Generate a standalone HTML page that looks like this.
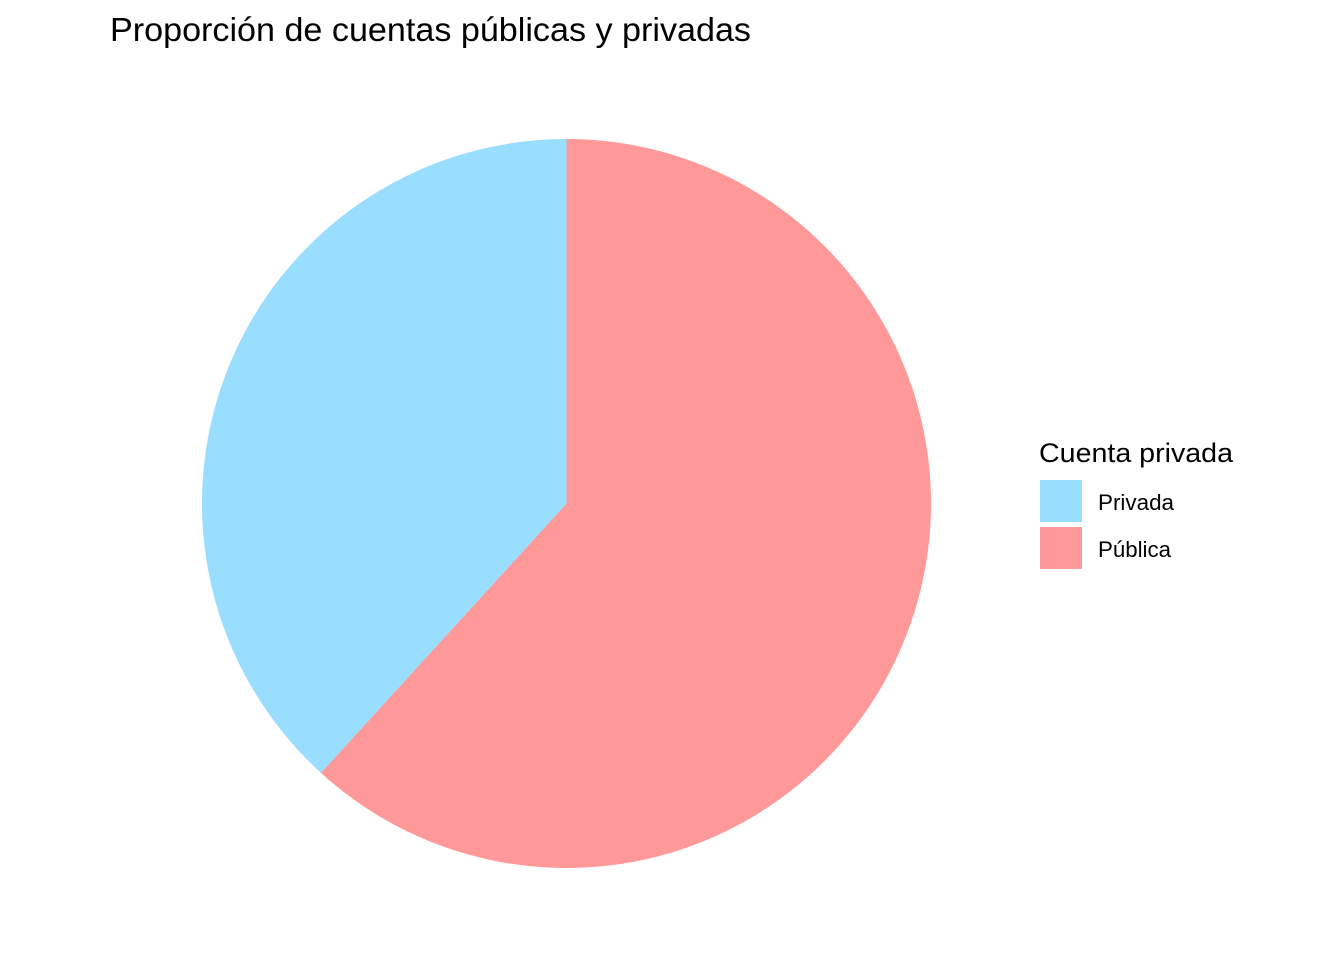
<!DOCTYPE html>
<html><head><meta charset="utf-8">
<style>
html,body{margin:0;padding:0;background:#fff;}
svg{display:block;font-family:"Liberation Sans",Arial,sans-serif;}
</style></head>
<body>
<svg id="chart" width="1344" height="960" viewBox="0 0 1344 960">
  <text x="110" y="41" font-size="33" textLength="641" lengthAdjust="spacingAndGlyphs" fill="#000">Proporción de cuentas públicas y privadas</text>
  <g id="slices"></g>
  <g>
    <text x="1039" y="462" font-size="27" textLength="194" lengthAdjust="spacingAndGlyphs" fill="#000">Cuenta privada</text>
    <g id="legend-items"></g>
  </g>
</svg>
<script>
const categories = ["Pública", "Privada"];
const counts = [21, 13];
const colors = ["#FF9999", "#99DDFF"];
const legendOrder = ["Privada", "Pública"];
const labelWidths = [76, 73];

const cx = 566.5, cy = 503.5, r = 364.5;
const ns = "http://www.w3.org/2000/svg";
const total = counts.reduce((a, b) => a + b, 0);
function pt(frac) {
  const a = frac * 2 * Math.PI;
  return [cx + r * Math.sin(a), cy - r * Math.cos(a)];
}
let acc = 0;
const g = document.getElementById("slices");
categories.forEach((c, i) => {
  const f0 = acc / total; acc += counts[i]; const f1 = acc / total;
  const [x0, y0] = pt(f0), [x1, y1] = pt(f1);
  const large = (f1 - f0) > 0.5 ? 1 : 0;
  const p = document.createElementNS(ns, "path");
  p.setAttribute("d", `M${cx},${cy} L${x0},${y0} A${r},${r} 0 ${large} 1 ${x1},${y1} Z`);
  p.setAttribute("fill", colors[i]);
  
  
  g.appendChild(p);
});
const lg = document.getElementById("legend-items");
legendOrder.forEach((c, j) => {
  const i = categories.indexOf(c);
  const y = 480 + j * 47;
  const rect = document.createElementNS(ns, "rect");
  rect.setAttribute("x", 1040); rect.setAttribute("y", y);
  rect.setAttribute("width", 42); rect.setAttribute("height", 42);
  rect.setAttribute("fill", colors[i]);
  
  
  lg.appendChild(rect);
  const t = document.createElementNS(ns, "text");
  t.setAttribute("x", 1098); t.setAttribute("y", y + 30);
  t.setAttribute("font-size", 22);
  t.setAttribute("textLength", labelWidths[j]);
  t.setAttribute("lengthAdjust", "spacingAndGlyphs");
  t.textContent = c;
  
  
  lg.appendChild(t);
});
</script>
</body></html>
